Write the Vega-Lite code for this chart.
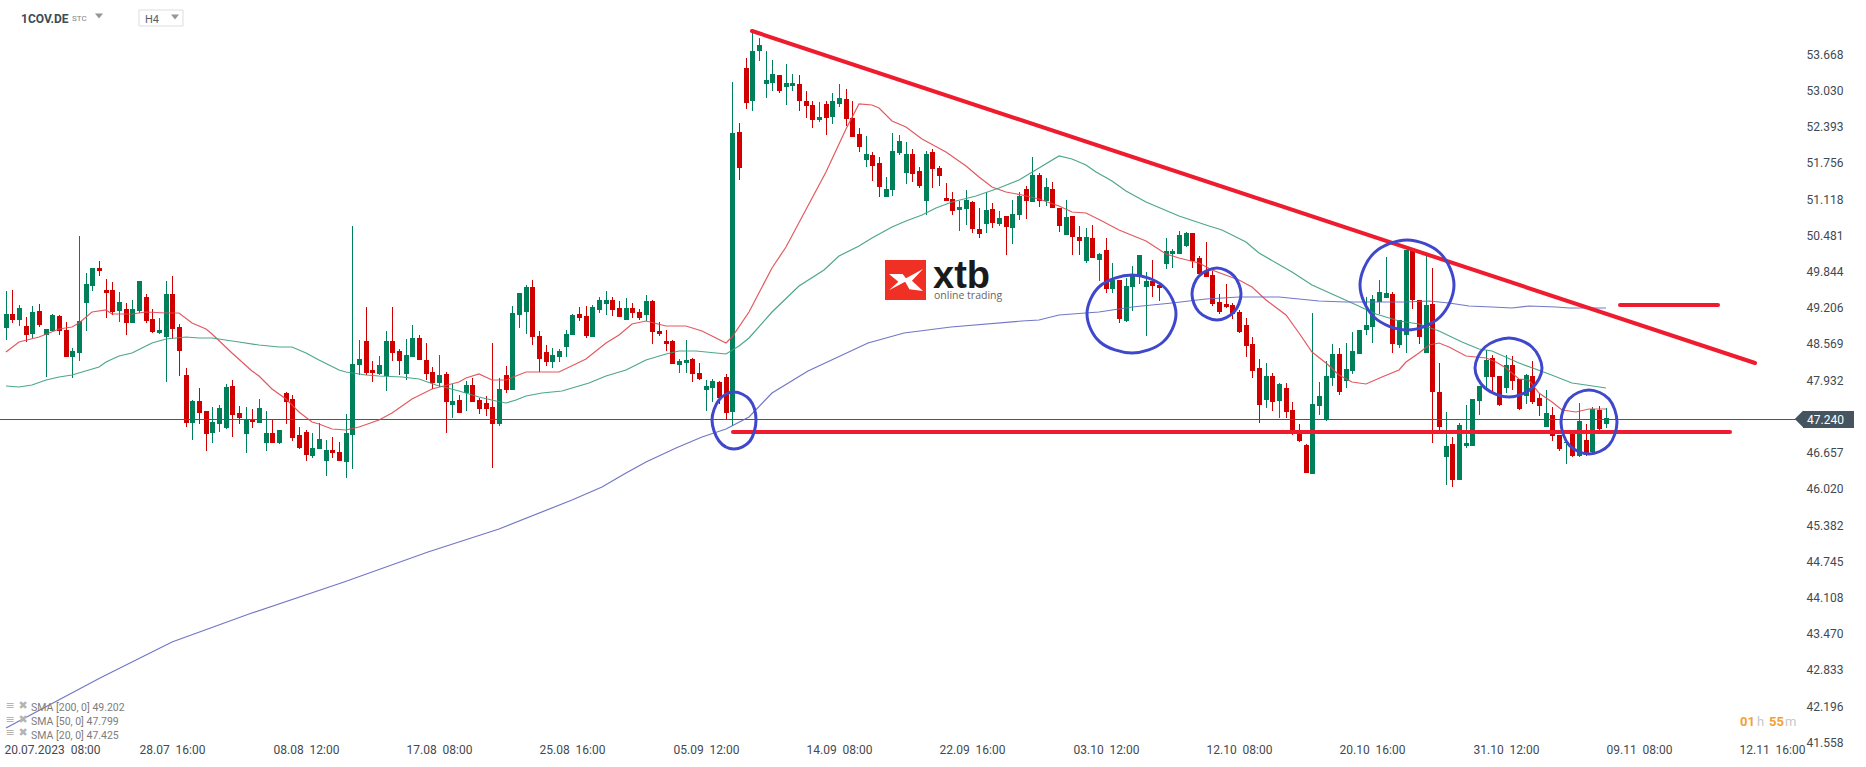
{"$schema":"https://vega.github.io/schema/vega-lite/v6.json","width":1866,"height":767,"autosize":{"type":"none"},"padding":0,"background":"#ffffff","config":{"view":{"stroke":null},"font":"Roboto","text":{"font":"Roboto"},"axis":{"labelFont":"Roboto"}},
"datasets":{
"candles":[
{"i":0,"open":48.84,"high":49.49,"low":48.63,"close":49.09},{"i":1,"open":49.09,"high":49.51,"low":48.93,"close":48.98},{"i":2,"open":48.98,"high":49.25,"low":48.88,"close":49.19},{"i":3,"open":48.88,"high":49.03,"low":48.59,"close":48.72},{"i":4,"open":48.73,"high":49.23,"low":48.67,"close":49.12},{"i":5,"open":49.14,"high":49.26,"low":48.86,"close":48.89},{"i":6,"open":48.72,"high":48.82,"low":47.98,"close":48.82},{"i":7,"open":48.79,"high":49.09,"low":48.79,"close":49.07},{"i":8,"open":49.05,"high":49.07,"low":48.72,"close":48.79},{"i":9,"open":48.81,"high":48.95,"low":48.33,"close":48.33},
{"i":10,"open":48.33,"high":48.49,"low":47.96,"close":48.44},{"i":11,"open":48.40,"high":50.46,"low":48.26,"close":48.96},{"i":12,"open":49.28,"high":49.81,"low":48.79,"close":49.62},{"i":13,"open":49.58,"high":49.90,"low":49.49,"close":49.90},{"i":14,"open":49.90,"high":50.02,"low":49.76,"close":49.84},{"i":15,"open":49.51,"high":49.70,"low":49.02,"close":49.46},{"i":16,"open":49.51,"high":49.65,"low":49.07,"close":49.12},{"i":17,"open":49.14,"high":49.47,"low":48.95,"close":49.30},{"i":18,"open":49.18,"high":49.28,"low":48.72,"close":48.93},{"i":19,"open":48.93,"high":49.33,"low":48.93,"close":49.18},
{"i":20,"open":49.14,"high":49.67,"low":49.10,"close":49.67},{"i":21,"open":49.39,"high":49.44,"low":48.93,"close":48.96},{"i":22,"open":49.00,"high":49.18,"low":48.75,"close":48.77},{"i":23,"open":48.75,"high":49.02,"low":48.74,"close":48.81},{"i":24,"open":48.68,"high":49.67,"low":47.89,"close":49.44},{"i":25,"open":49.44,"high":49.76,"low":48.65,"close":48.82},{"i":26,"open":48.86,"high":48.91,"low":48.00,"close":48.44},{"i":27,"open":48.01,"high":48.14,"low":47.10,"close":47.17},{"i":28,"open":47.17,"high":47.57,"low":46.87,"close":47.56},{"i":29,"open":47.56,"high":47.79,"low":47.15,"close":47.35},
{"i":30,"open":47.38,"high":47.38,"low":46.68,"close":46.98},{"i":31,"open":46.99,"high":47.45,"low":46.82,"close":47.19},{"i":32,"open":47.15,"high":47.49,"low":47.01,"close":47.43},{"i":33,"open":47.08,"high":47.86,"low":47.06,"close":47.80},{"i":34,"open":47.82,"high":47.93,"low":46.92,"close":47.31},{"i":35,"open":47.35,"high":47.47,"low":47.15,"close":47.26},{"i":36,"open":46.98,"high":47.45,"low":46.64,"close":47.24},{"i":37,"open":47.24,"high":47.42,"low":47.08,"close":47.19},{"i":38,"open":47.17,"high":47.59,"low":47.17,"close":47.43},{"i":39,"open":46.82,"high":47.38,"low":46.68,"close":46.99},
{"i":40,"open":46.99,"high":47.24,"low":46.82,"close":46.82},{"i":41,"open":46.82,"high":47.05,"low":46.80,"close":47.05},{"i":42,"open":47.70,"high":47.72,"low":47.15,"close":47.54},{"i":43,"open":47.59,"high":47.66,"low":46.85,"close":46.91},{"i":44,"open":46.96,"high":47.10,"low":46.71,"close":46.73},{"i":45,"open":47.01,"high":47.05,"low":46.50,"close":46.61},{"i":46,"open":46.59,"high":46.99,"low":46.55,"close":46.73},{"i":47,"open":46.71,"high":47.17,"low":46.71,"close":46.89},{"i":48,"open":46.50,"high":46.87,"low":46.24,"close":46.69},{"i":49,"open":46.69,"high":46.92,"low":46.55,"close":46.64},
{"i":50,"open":46.66,"high":46.84,"low":46.50,"close":46.50},{"i":51,"open":46.48,"high":47.33,"low":46.20,"close":46.99},{"i":52,"open":46.96,"high":50.64,"low":46.36,"close":48.21},{"i":53,"open":48.19,"high":48.63,"low":48.01,"close":48.30},{"i":54,"open":48.61,"high":49.21,"low":48.01,"close":48.05},{"i":55,"open":48.10,"high":48.26,"low":47.89,"close":48.05},{"i":56,"open":48.03,"high":48.35,"low":48.01,"close":48.19},{"i":57,"open":48.00,"high":48.79,"low":47.73,"close":48.61},{"i":58,"open":48.61,"high":49.21,"low":48.26,"close":48.40},{"i":59,"open":48.44,"high":48.47,"low":48.01,"close":48.26},
{"i":60,"open":48.03,"high":48.65,"low":47.93,"close":48.37},{"i":61,"open":48.33,"high":48.89,"low":48.33,"close":48.67},{"i":62,"open":48.67,"high":48.72,"low":48.28,"close":48.28},{"i":63,"open":48.28,"high":48.58,"low":47.93,"close":48.03},{"i":64,"open":48.07,"high":48.16,"low":47.77,"close":47.87},{"i":65,"open":47.87,"high":48.37,"low":47.80,"close":48.01},{"i":66,"open":48.03,"high":48.07,"low":46.99,"close":47.54},{"i":67,"open":47.49,"high":47.86,"low":47.26,"close":47.56},{"i":68,"open":47.57,"high":47.66,"low":47.35,"close":47.35},{"i":69,"open":47.70,"high":47.91,"low":47.38,"close":47.84},
{"i":70,"open":47.84,"high":47.96,"low":47.54,"close":47.54},{"i":71,"open":47.57,"high":47.61,"low":47.33,"close":47.42},{"i":72,"open":47.52,"high":47.65,"low":47.29,"close":47.42},{"i":73,"open":47.45,"high":48.58,"low":46.38,"close":47.15},{"i":74,"open":47.15,"high":47.96,"low":47.12,"close":47.77},{"i":75,"open":48.01,"high":48.17,"low":47.70,"close":47.75},{"i":76,"open":47.75,"high":49.23,"low":47.75,"close":49.10},{"i":77,"open":49.07,"high":49.46,"low":48.84,"close":49.46},{"i":78,"open":49.12,"high":49.60,"low":48.74,"close":49.56},{"i":79,"open":49.56,"high":49.69,"low":48.54,"close":48.68},
{"i":80,"open":48.70,"high":48.79,"low":48.07,"close":48.30},{"i":81,"open":48.42,"high":48.54,"low":48.17,"close":48.24},{"i":82,"open":48.24,"high":48.49,"low":48.14,"close":48.37},{"i":83,"open":48.33,"high":48.47,"low":48.24,"close":48.44},{"i":84,"open":48.51,"high":48.81,"low":48.33,"close":48.74},{"i":85,"open":48.72,"high":49.09,"low":48.72,"close":49.07},{"i":86,"open":49.09,"high":49.21,"low":48.96,"close":49.02},{"i":87,"open":49.05,"high":49.23,"low":48.67,"close":48.70},{"i":88,"open":48.68,"high":49.25,"low":48.68,"close":49.21},{"i":89,"open":49.16,"high":49.39,"low":49.10,"close":49.33},
{"i":90,"open":49.26,"high":49.49,"low":49.07,"close":49.33},{"i":91,"open":49.33,"high":49.39,"low":49.05,"close":49.16},{"i":92,"open":49.19,"high":49.32,"low":49.03,"close":49.03},{"i":93,"open":48.98,"high":49.37,"low":48.98,"close":49.19},{"i":94,"open":49.19,"high":49.28,"low":49.02,"close":49.10},{"i":95,"open":49.12,"high":49.18,"low":48.98,"close":49.02},{"i":96,"open":49.07,"high":49.42,"low":48.96,"close":49.32},{"i":97,"open":49.32,"high":49.33,"low":48.56,"close":48.77},{"i":98,"open":48.79,"high":48.95,"low":48.70,"close":48.74},{"i":99,"open":48.61,"high":48.81,"low":48.44,"close":48.56},
{"i":100,"open":48.61,"high":48.63,"low":48.21,"close":48.21},{"i":101,"open":48.19,"high":48.30,"low":48.05,"close":48.26},{"i":102,"open":48.23,"high":48.63,"low":48.05,"close":48.28},{"i":103,"open":48.30,"high":48.31,"low":47.89,"close":48.03},{"i":104,"open":48.05,"high":48.23,"low":47.93,"close":47.94},{"i":105,"open":47.75,"high":47.93,"low":47.38,"close":47.82},{"i":106,"open":47.79,"high":47.94,"low":47.54,"close":47.91},{"i":107,"open":47.89,"high":47.91,"low":47.50,"close":47.61},{"i":108,"open":47.98,"high":48.03,"low":47.24,"close":47.35},{"i":109,"open":47.36,"high":53.17,"low":47.12,"close":52.27},
{"i":110,"open":52.29,"high":52.45,"low":51.45,"close":51.66},{"i":111,"open":53.42,"high":53.59,"low":52.69,"close":52.80},{"i":112,"open":52.84,"high":54.07,"low":52.66,"close":53.71},{"i":113,"open":53.71,"high":53.94,"low":53.54,"close":53.82},{"i":114,"open":53.13,"high":53.71,"low":52.89,"close":53.20},{"i":115,"open":53.15,"high":53.56,"low":53.01,"close":53.31},{"i":116,"open":53.29,"high":53.29,"low":52.98,"close":53.01},{"i":117,"open":53.08,"high":53.49,"low":52.77,"close":53.15},{"i":118,"open":53.10,"high":53.31,"low":53.01,"close":53.15},{"i":119,"open":53.13,"high":53.29,"low":52.66,"close":52.84},
{"i":120,"open":52.84,"high":53.01,"low":52.54,"close":52.75},{"i":121,"open":52.77,"high":52.84,"low":52.36,"close":52.50},{"i":122,"open":52.50,"high":52.82,"low":52.47,"close":52.55},{"i":123,"open":52.78,"high":52.84,"low":52.24,"close":52.54},{"i":124,"open":52.55,"high":52.98,"low":52.43,"close":52.84},{"i":125,"open":52.78,"high":53.13,"low":52.73,"close":52.89},{"i":126,"open":52.87,"high":53.05,"low":52.40,"close":52.52},{"i":127,"open":52.54,"high":52.84,"low":52.20,"close":52.20},{"i":128,"open":52.26,"high":52.36,"low":51.94,"close":52.03},{"i":129,"open":51.80,"high":52.22,"low":51.67,"close":51.90},
{"i":130,"open":51.89,"high":51.94,"low":51.43,"close":51.69},{"i":131,"open":51.74,"high":51.85,"low":51.15,"close":51.32},{"i":132,"open":51.15,"high":51.50,"low":51.15,"close":51.29},{"i":133,"open":51.27,"high":52.27,"low":51.16,"close":51.96},{"i":134,"open":51.92,"high":52.24,"low":51.89,"close":52.13},{"i":135,"open":51.57,"high":52.11,"low":51.37,"close":51.90},{"i":136,"open":51.90,"high":51.99,"low":51.41,"close":51.55},{"i":137,"open":51.60,"high":51.67,"low":51.30,"close":51.34},{"i":138,"open":51.08,"high":51.96,"low":50.83,"close":51.90},{"i":139,"open":51.94,"high":51.99,"low":51.30,"close":51.64},
{"i":140,"open":51.66,"high":51.69,"low":51.34,"close":51.52},{"i":141,"open":51.13,"high":51.39,"low":51.08,"close":51.08},{"i":142,"open":51.11,"high":51.23,"low":50.83,"close":50.90},{"i":143,"open":50.92,"high":51.08,"low":50.55,"close":50.97},{"i":144,"open":50.94,"high":51.27,"low":50.65,"close":51.09},{"i":145,"open":51.06,"high":51.08,"low":50.51,"close":50.58},{"i":146,"open":50.58,"high":50.95,"low":50.43,"close":50.50},{"i":147,"open":50.67,"high":51.23,"low":50.51,"close":50.92},{"i":148,"open":50.94,"high":51.04,"low":50.60,"close":50.69},{"i":149,"open":50.67,"high":50.90,"low":50.64,"close":50.78},
{"i":150,"open":50.81,"high":50.81,"low":50.13,"close":50.62},{"i":151,"open":50.60,"high":51.09,"low":50.32,"close":50.85},{"i":152,"open":50.83,"high":51.24,"low":50.74,"close":51.16},{"i":153,"open":51.29,"high":51.34,"low":50.76,"close":51.08},{"i":154,"open":51.06,"high":51.85,"low":51.06,"close":51.53},{"i":155,"open":51.53,"high":51.57,"low":50.97,"close":51.08},{"i":156,"open":51.08,"high":51.48,"low":50.99,"close":51.32},{"i":157,"open":51.29,"high":51.41,"low":50.95,"close":50.95},{"i":158,"open":50.95,"high":50.95,"low":50.53,"close":50.64},{"i":159,"open":50.48,"high":51.09,"low":50.48,"close":50.79},
{"i":160,"open":50.81,"high":50.81,"low":50.13,"close":50.44},{"i":161,"open":50.44,"high":50.64,"low":50.13,"close":50.37},{"i":162,"open":50.02,"high":50.60,"low":49.99,"close":50.44},{"i":163,"open":50.43,"high":50.65,"low":50.07,"close":50.07},{"i":164,"open":50.04,"high":50.16,"low":49.67,"close":50.14},{"i":165,"open":50.21,"high":50.43,"low":49.46,"close":49.53},{"i":166,"open":49.53,"high":49.99,"low":49.46,"close":49.69},{"i":167,"open":49.69,"high":49.69,"low":48.93,"close":49.00},{"i":168,"open":48.96,"high":49.72,"low":48.95,"close":49.58},{"i":169,"open":49.56,"high":49.93,"low":49.14,"close":49.77},
{"i":170,"open":49.76,"high":50.13,"low":49.62,"close":50.13},{"i":171,"open":49.56,"high":49.83,"low":48.70,"close":49.67},{"i":172,"open":49.67,"high":50.04,"low":49.39,"close":49.58},{"i":173,"open":49.60,"high":49.62,"low":49.32,"close":49.55},{"i":174,"open":49.97,"high":50.43,"low":49.88,"close":50.20},{"i":175,"open":50.14,"high":50.23,"low":49.90,"close":50.20},{"i":176,"open":50.14,"high":50.55,"low":50.14,"close":50.48},{"i":177,"open":50.28,"high":50.53,"low":50.27,"close":50.51},{"i":178,"open":50.51,"high":50.51,"low":49.90,"close":50.02},{"i":179,"open":50.07,"high":50.11,"low":49.74,"close":49.79},
{"i":180,"open":49.84,"high":50.35,"low":49.74,"close":49.74},{"i":181,"open":49.77,"high":49.84,"low":49.23,"close":49.26},{"i":182,"open":49.30,"high":49.44,"low":49.09,"close":49.12},{"i":183,"open":49.26,"high":49.62,"low":49.19,"close":49.21},{"i":184,"open":49.25,"high":49.28,"low":49.00,"close":49.09},{"i":185,"open":49.12,"high":49.16,"low":48.75,"close":48.77},{"i":186,"open":48.89,"high":49.02,"low":48.33,"close":48.52},{"i":187,"open":48.56,"high":48.68,"low":47.96,"close":48.09},{"i":188,"open":48.14,"high":48.30,"low":47.17,"close":47.49},{"i":189,"open":47.57,"high":48.23,"low":47.43,"close":48.00},
{"i":190,"open":48.00,"high":48.05,"low":47.38,"close":47.54},{"i":191,"open":47.56,"high":47.87,"low":47.26,"close":47.86},{"i":192,"open":47.79,"high":47.87,"low":47.26,"close":47.36},{"i":193,"open":47.40,"high":47.54,"low":46.96,"close":47.01},{"i":194,"open":47.01,"high":47.15,"low":46.84,"close":46.85},{"i":195,"open":46.78,"high":46.80,"low":46.29,"close":46.29},{"i":196,"open":46.28,"high":49.10,"low":46.28,"close":47.50},{"i":197,"open":47.47,"high":47.89,"low":47.31,"close":47.64},{"i":198,"open":47.24,"high":48.26,"low":47.20,"close":48.00},{"i":199,"open":47.96,"high":48.56,"low":47.82,"close":48.38},
{"i":200,"open":48.38,"high":48.49,"low":47.66,"close":47.72},{"i":201,"open":47.91,"high":48.58,"low":47.79,"close":48.12},{"i":202,"open":48.09,"high":48.77,"low":48.03,"close":48.44},{"i":203,"open":48.38,"high":48.81,"low":48.38,"close":48.81},{"i":204,"open":48.81,"high":49.39,"low":48.72,"close":48.89},{"i":205,"open":48.86,"high":49.42,"low":48.58,"close":49.35},{"i":206,"open":49.30,"high":49.69,"low":49.09,"close":49.47},{"i":207,"open":49.37,"high":50.09,"low":49.37,"close":49.46},{"i":208,"open":49.44,"high":49.47,"low":48.40,"close":48.56},{"i":209,"open":48.54,"high":48.98,"low":48.49,"close":48.98},
{"i":210,"open":48.72,"high":50.21,"low":48.40,"close":50.21},{"i":211,"open":50.20,"high":50.21,"low":49.18,"close":49.33},{"i":212,"open":49.33,"high":49.33,"low":48.56,"close":48.68},{"i":213,"open":48.40,"high":50.11,"low":48.40,"close":49.25},{"i":214,"open":49.26,"high":49.90,"low":46.82,"close":47.72},{"i":215,"open":47.72,"high":48.23,"low":47.01,"close":47.10},{"i":216,"open":46.57,"high":47.36,"low":46.08,"close":46.76},{"i":217,"open":46.80,"high":46.92,"low":46.04,"close":46.17},{"i":218,"open":46.17,"high":47.17,"low":46.17,"close":47.13},{"i":219,"open":46.76,"high":47.49,"low":46.73,"close":46.82},
{"i":220,"open":46.76,"high":47.59,"low":46.76,"close":47.59},{"i":221,"open":47.56,"high":47.82,"low":47.31,"close":47.82},{"i":222,"open":47.98,"high":48.45,"low":47.77,"close":48.28},{"i":223,"open":48.31,"high":48.37,"low":47.72,"close":47.98},{"i":224,"open":48.00,"high":48.00,"low":47.47,"close":47.49},{"i":225,"open":47.79,"high":48.37,"low":47.70,"close":48.19},{"i":226,"open":48.19,"high":48.35,"low":47.75,"close":47.91},{"i":227,"open":47.94,"high":47.94,"low":47.40,"close":47.42},{"i":228,"open":47.64,"high":48.03,"low":47.50,"close":48.01},{"i":229,"open":48.00,"high":48.26,"low":47.50,"close":47.54},
{"i":230,"open":47.61,"high":47.68,"low":47.29,"close":47.47},{"i":231,"open":47.10,"high":47.75,"low":47.10,"close":47.35},{"i":232,"open":47.31,"high":47.45,"low":46.85,"close":46.94},{"i":233,"open":46.96,"high":46.96,"low":46.68,"close":46.71},{"i":234,"open":46.81,"high":46.87,"low":46.45,"close":46.84},{"i":235,"open":47.05,"high":47.05,"low":46.57,"close":46.59},{"i":236,"open":46.59,"high":47.52,"low":46.57,"close":47.20},{"i":237,"open":46.87,"high":47.15,"low":46.59,"close":46.61},{"i":238,"open":46.66,"high":47.45,"low":46.64,"close":47.42},{"i":239,"open":47.40,"high":47.47,"low":47.05,"close":47.06},{"i":240,"open":47.15,"high":47.43,"low":47.08,"close":47.26}
],
"sma":[
{"series":"SMA 20","i":0,"price":48.42},{"series":"SMA 20","i":2,"price":48.60},{"series":"SMA 20","i":5,"price":48.68},{"series":"SMA 20","i":8,"price":48.82},{"series":"SMA 20","i":10,"price":48.86},{"series":"SMA 20","i":11,"price":48.93},{"series":"SMA 20","i":13,"price":49.12},{"series":"SMA 20","i":15,"price":49.16},{"series":"SMA 20","i":16,"price":49.09},{"series":"SMA 20","i":19,"price":49.08},{"series":"SMA 20","i":21,"price":49.12},{"series":"SMA 20","i":24,"price":49.10},{"series":"SMA 20","i":26,"price":49.10},{"series":"SMA 20","i":28,"price":48.93},{"series":"SMA 20","i":30,"price":48.82},{"series":"SMA 20","i":31,"price":48.74},{"series":"SMA 20","i":34,"price":48.41},{"series":"SMA 20","i":37,"price":48.08},{"series":"SMA 20","i":38,"price":48.00},{"series":"SMA 20","i":40,"price":47.76},{"series":"SMA 20","i":42,"price":47.60},{"series":"SMA 20","i":44,"price":47.37},{"series":"SMA 20","i":46,"price":47.18},{"series":"SMA 20","i":47,"price":47.15},{"series":"SMA 20","i":49,"price":47.07},{"series":"SMA 20","i":51,"price":47.05},{"series":"SMA 20","i":53,"price":47.10},{"series":"SMA 20","i":56,"price":47.22},{"series":"SMA 20","i":58,"price":47.34},{"series":"SMA 20","i":61,"price":47.59},{"series":"SMA 20","i":64,"price":47.76},{"series":"SMA 20","i":68,"price":47.90},{"series":"SMA 20","i":69,"price":47.97},{"series":"SMA 20","i":71,"price":48.04},{"series":"SMA 20","i":73,"price":47.93},{"series":"SMA 20","i":75,"price":47.93},{"series":"SMA 20","i":78,"price":48.07},{"series":"SMA 20","i":81,"price":48.06},{"series":"SMA 20","i":83,"price":48.07},{"series":"SMA 20","i":87,"price":48.30},{"series":"SMA 20","i":90,"price":48.57},{"series":"SMA 20","i":92,"price":48.72},{"series":"SMA 20","i":94,"price":48.92},{"series":"SMA 20","i":96,"price":48.97},{"series":"SMA 20","i":99,"price":48.88},{"series":"SMA 20","i":102,"price":48.88},{"series":"SMA 20","i":104.5,"price":48.78},{"series":"SMA 20","i":108,"price":48.57},{"series":"SMA 20","i":109,"price":48.69},{"series":"SMA 20","i":111.5,"price":49.13},{"series":"SMA 20","i":115,"price":49.89},{"series":"SMA 20","i":117,"price":50.27},{"series":"SMA 20","i":119.5,"price":50.80},{"series":"SMA 20","i":123,"price":51.59},{"series":"SMA 20","i":126,"price":52.35},{"series":"SMA 20","i":128,"price":52.78},{"series":"SMA 20","i":130,"price":52.76},{"series":"SMA 20","i":131,"price":52.71},{"series":"SMA 20","i":133,"price":52.48},{"series":"SMA 20","i":135,"price":52.37},{"series":"SMA 20","i":137.5,"price":52.16},{"series":"SMA 20","i":141,"price":51.94},{"series":"SMA 20","i":144,"price":51.70},{"series":"SMA 20","i":146,"price":51.49},{"series":"SMA 20","i":148,"price":51.33},{"series":"SMA 20","i":150,"price":51.23},{"series":"SMA 20","i":152.5,"price":51.19},{"series":"SMA 20","i":155,"price":51.12},{"series":"SMA 20","i":158,"price":50.98},{"series":"SMA 20","i":160,"price":50.89},{"series":"SMA 20","i":162,"price":50.86},{"series":"SMA 20","i":164.5,"price":50.73},{"series":"SMA 20","i":167,"price":50.57},{"series":"SMA 20","i":171,"price":50.38},{"series":"SMA 20","i":174,"price":50.14},{"series":"SMA 20","i":176,"price":50.07},{"series":"SMA 20","i":179,"price":49.99},{"series":"SMA 20","i":181,"price":49.87},{"series":"SMA 20","i":185,"price":49.69},{"series":"SMA 20","i":187,"price":49.57},{"series":"SMA 20","i":189,"price":49.33},{"series":"SMA 20","i":192,"price":49.07},{"series":"SMA 20","i":194,"price":48.75},{"series":"SMA 20","i":196,"price":48.42},{"series":"SMA 20","i":198,"price":48.23},{"series":"SMA 20","i":200,"price":48.01},{"series":"SMA 20","i":202,"price":47.89},{"series":"SMA 20","i":204,"price":47.86},{"series":"SMA 20","i":206.5,"price":47.98},{"series":"SMA 20","i":209,"price":48.10},{"series":"SMA 20","i":210,"price":48.25},{"series":"SMA 20","i":212,"price":48.40},{"series":"SMA 20","i":213.5,"price":48.54},{"series":"SMA 20","i":215,"price":48.58},{"series":"SMA 20","i":216.5,"price":48.51},{"series":"SMA 20","i":219,"price":48.35},{"series":"SMA 20","i":222,"price":48.32},{"series":"SMA 20","i":223.5,"price":48.25},{"series":"SMA 20","i":225,"price":48.13},{"series":"SMA 20","i":227,"price":47.94},{"series":"SMA 20","i":228.5,"price":47.93},{"series":"SMA 20","i":230,"price":47.69},{"series":"SMA 20","i":232,"price":47.54},{"series":"SMA 20","i":233.5,"price":47.40},{"series":"SMA 20","i":235.5,"price":47.36},{"series":"SMA 20","i":237.5,"price":47.42},{"series":"SMA 20","i":240,"price":47.42},
{"series":"SMA 50","i":0,"price":47.82},{"series":"SMA 50","i":2,"price":47.80},{"series":"SMA 50","i":4,"price":47.84},{"series":"SMA 50","i":6,"price":47.92},{"series":"SMA 50","i":8,"price":47.98},{"series":"SMA 50","i":10,"price":48.01},{"series":"SMA 50","i":14,"price":48.15},{"series":"SMA 50","i":15,"price":48.25},{"series":"SMA 50","i":17,"price":48.35},{"series":"SMA 50","i":19,"price":48.41},{"series":"SMA 50","i":22,"price":48.58},{"series":"SMA 50","i":24,"price":48.64},{"series":"SMA 50","i":27,"price":48.69},{"series":"SMA 50","i":29,"price":48.67},{"series":"SMA 50","i":31,"price":48.67},{"series":"SMA 50","i":35,"price":48.60},{"series":"SMA 50","i":38,"price":48.55},{"series":"SMA 50","i":41,"price":48.51},{"series":"SMA 50","i":43,"price":48.50},{"series":"SMA 50","i":45,"price":48.40},{"series":"SMA 50","i":47,"price":48.28},{"series":"SMA 50","i":50,"price":48.10},{"series":"SMA 50","i":51,"price":48.06},{"series":"SMA 50","i":54,"price":48.01},{"series":"SMA 50","i":56,"price":48.00},{"series":"SMA 50","i":59.5,"price":47.98},{"series":"SMA 50","i":62,"price":47.94},{"series":"SMA 50","i":64.5,"price":47.84},{"series":"SMA 50","i":68,"price":47.74},{"series":"SMA 50","i":71,"price":47.63},{"series":"SMA 50","i":73.5,"price":47.56},{"series":"SMA 50","i":75,"price":47.53},{"series":"SMA 50","i":76.5,"price":47.57},{"series":"SMA 50","i":78,"price":47.64},{"series":"SMA 50","i":80.5,"price":47.70},{"series":"SMA 50","i":83.5,"price":47.74},{"series":"SMA 50","i":87.5,"price":47.88},{"series":"SMA 50","i":90,"price":48.00},{"series":"SMA 50","i":93,"price":48.10},{"series":"SMA 50","i":96,"price":48.28},{"series":"SMA 50","i":99,"price":48.38},{"series":"SMA 50","i":101,"price":48.44},{"series":"SMA 50","i":103.5,"price":48.44},{"series":"SMA 50","i":108,"price":48.38},{"series":"SMA 50","i":110,"price":48.52},{"series":"SMA 50","i":111.5,"price":48.66},{"series":"SMA 50","i":115,"price":49.12},{"series":"SMA 50","i":119,"price":49.58},{"series":"SMA 50","i":122.8,"price":49.87},{"series":"SMA 50","i":125,"price":50.11},{"series":"SMA 50","i":128,"price":50.28},{"series":"SMA 50","i":130,"price":50.42},{"series":"SMA 50","i":133,"price":50.61},{"series":"SMA 50","i":135,"price":50.72},{"series":"SMA 50","i":137.5,"price":50.83},{"series":"SMA 50","i":139.5,"price":50.96},{"series":"SMA 50","i":142,"price":51.05},{"series":"SMA 50","i":145.5,"price":51.17},{"series":"SMA 50","i":149,"price":51.30},{"series":"SMA 50","i":152,"price":51.45},{"series":"SMA 50","i":155,"price":51.65},{"series":"SMA 50","i":158,"price":51.86},{"series":"SMA 50","i":160,"price":51.81},{"series":"SMA 50","i":162,"price":51.71},{"series":"SMA 50","i":163.5,"price":51.59},{"series":"SMA 50","i":166,"price":51.42},{"series":"SMA 50","i":168,"price":51.26},{"series":"SMA 50","i":171,"price":51.06},{"series":"SMA 50","i":176,"price":50.82},{"series":"SMA 50","i":180,"price":50.65},{"series":"SMA 50","i":182.5,"price":50.57},{"series":"SMA 50","i":186,"price":50.36},{"series":"SMA 50","i":188,"price":50.17},{"series":"SMA 50","i":193,"price":49.83},{"series":"SMA 50","i":196,"price":49.59},{"series":"SMA 50","i":199,"price":49.44},{"series":"SMA 50","i":202,"price":49.28},{"series":"SMA 50","i":205.5,"price":49.09},{"series":"SMA 50","i":209,"price":48.96},{"series":"SMA 50","i":212,"price":48.91},{"series":"SMA 50","i":215,"price":48.78},{"series":"SMA 50","i":218.5,"price":48.60},{"series":"SMA 50","i":221,"price":48.48},{"series":"SMA 50","i":223,"price":48.44},{"series":"SMA 50","i":227,"price":48.23},{"series":"SMA 50","i":231.5,"price":48.04},{"series":"SMA 50","i":235,"price":47.88},{"series":"SMA 50","i":237,"price":47.83},{"series":"SMA 50","i":240,"price":47.79},
{"series":"SMA 200","i":0,"price":41.81},{"series":"SMA 200","i":14.2,"price":42.68},{"series":"SMA 200","i":25,"price":43.31},{"series":"SMA 200","i":36.5,"price":43.81},{"series":"SMA 200","i":50.8,"price":44.37},{"series":"SMA 200","i":63.3,"price":44.90},{"series":"SMA 200","i":74,"price":45.30},{"series":"SMA 200","i":85,"price":45.81},{"series":"SMA 200","i":89.5,"price":46.04},{"series":"SMA 200","i":93.1,"price":46.29},{"series":"SMA 200","i":96.1,"price":46.48},{"series":"SMA 200","i":100.6,"price":46.73},{"series":"SMA 200","i":104.5,"price":46.92},{"series":"SMA 200","i":108.1,"price":47.06},{"series":"SMA 200","i":111.5,"price":47.28},{"series":"SMA 200","i":115,"price":47.70},{"series":"SMA 200","i":120.4,"price":48.08},{"series":"SMA 200","i":129.4,"price":48.58},{"series":"SMA 200","i":134.7,"price":48.75},{"series":"SMA 200","i":141.8,"price":48.86},{"series":"SMA 200","i":152.5,"price":48.96},{"series":"SMA 200","i":155,"price":48.98},{"series":"SMA 200","i":158,"price":49.07},{"series":"SMA 200","i":164,"price":49.13},{"series":"SMA 200","i":169,"price":49.21},{"series":"SMA 200","i":175,"price":49.29},{"series":"SMA 200","i":180,"price":49.35},{"series":"SMA 200","i":185,"price":49.39},{"series":"SMA 200","i":191,"price":49.39},{"series":"SMA 200","i":197,"price":49.32},{"series":"SMA 200","i":201,"price":49.30},{"series":"SMA 200","i":210,"price":49.30},{"series":"SMA 200","i":213.5,"price":49.32},{"series":"SMA 200","i":216.5,"price":49.28},{"series":"SMA 200","i":219.5,"price":49.23},{"series":"SMA 200","i":223,"price":49.21},{"series":"SMA 200","i":226,"price":49.19},{"series":"SMA 200","i":228.5,"price":49.22},{"series":"SMA 200","i":232.5,"price":49.21},{"series":"SMA 200","i":234.5,"price":49.19},{"series":"SMA 200","i":240,"price":49.20}
],
"trend":[
{"name":"resistance","i":111.9,"price":54.07},{"name":"resistance","i":262.4,"price":48.22},
{"name":"support","i":109.1,"price":47.006},{"name":"support","i":258.6,"price":47.006},
{"name":"level","i":242.1,"price":49.24},{"name":"level","i":256.8,"price":49.24}
],
"circles":[
{"c":1,"n":0,"i":112.60,"price":47.214},{"c":1,"n":1,"i":111.63,"price":47.575},{"c":1,"n":2,"i":109.30,"price":47.724},{"c":1,"n":3,"i":106.97,"price":47.575},{"c":1,"n":4,"i":106.00,"price":47.214},{"c":1,"n":5,"i":106.97,"price":46.853},{"c":1,"n":6,"i":109.30,"price":46.704},{"c":1,"n":7,"i":111.63,"price":46.853},
{"c":2,"n":0,"i":175.59,"price":49.088},{"c":2,"n":1,"i":173.64,"price":49.573},{"c":2,"n":2,"i":168.92,"price":49.774},{"c":2,"n":3,"i":164.20,"price":49.573},{"c":2,"n":4,"i":162.25,"price":49.088},{"c":2,"n":5,"i":164.20,"price":48.603},{"c":2,"n":6,"i":168.92,"price":48.402},{"c":2,"n":7,"i":173.64,"price":48.603},
{"c":3,"n":0,"i":185.34,"price":49.44},{"c":3,"n":1,"i":184.27,"price":49.763},{"c":3,"n":2,"i":181.67,"price":49.898},{"c":3,"n":3,"i":179.07,"price":49.763},{"c":3,"n":4,"i":178.00,"price":49.44},{"c":3,"n":5,"i":179.07,"price":49.117},{"c":3,"n":6,"i":181.67,"price":48.982},{"c":3,"n":7,"i":184.27,"price":49.117},
{"c":4,"n":0,"i":217.29,"price":49.598},{"c":4,"n":1,"i":215.22,"price":50.158},{"c":4,"n":2,"i":210.24,"price":50.39},{"c":4,"n":3,"i":205.26,"price":50.158},{"c":4,"n":4,"i":203.19,"price":49.598},{"c":4,"n":5,"i":205.26,"price":49.038},{"c":4,"n":6,"i":210.24,"price":48.806},{"c":4,"n":7,"i":215.22,"price":49.038},
{"c":5,"n":0,"i":230.48,"price":48.146},{"c":5,"n":1,"i":229.01,"price":48.513},{"c":5,"n":2,"i":225.46,"price":48.665},{"c":5,"n":3,"i":221.91,"price":48.513},{"c":5,"n":4,"i":220.44,"price":48.146},{"c":5,"n":5,"i":221.91,"price":47.779},{"c":5,"n":6,"i":225.46,"price":47.627},{"c":5,"n":7,"i":229.01,"price":47.779},
{"c":6,"n":0,"i":241.74,"price":47.187},{"c":6,"n":1,"i":240.51,"price":47.585},{"c":6,"n":2,"i":237.54,"price":47.75},{"c":6,"n":3,"i":234.57,"price":47.585},{"c":6,"n":4,"i":233.34,"price":47.187},{"c":6,"n":5,"i":234.57,"price":46.789},{"c":6,"n":6,"i":237.54,"price":46.624},{"c":6,"n":7,"i":240.51,"price":46.789}
]},
"encoding":{
"x":{"field":"i","type":"quantitative","scale":{"domain":[-0.83,279.07],"nice":false,"zero":false,"round":true,"padding":0},"axis":{"title":null,"orient":"bottom","domain":false,"ticks":false,"grid":false,"labelPadding":-23,"labelFontSize":12,"labelColor":"#3f4a52","labelOverlap":false,"labelFlush":false,"labelBound":false,"values":[7,25,45,65,85,105,125,145,165,185,205,225,245,265],"labelExpr":"{'7':'20.07.2023\u00a0\u00a008:00','25':'28.07\u00a0\u00a016:00','45':'08.08\u00a0\u00a012:00','65':'17.08\u00a0\u00a008:00','85':'25.08\u00a0\u00a016:00','105':'05.09\u00a0\u00a012:00','125':'14.09\u00a0\u00a008:00','145':'22.09\u00a0\u00a016:00','165':'03.10\u00a0\u00a012:00','185':'12.10\u00a0\u00a008:00','205':'20.10\u00a0\u00a016:00','225':'31.10\u00a0\u00a012:00','245':'09.11\u00a0\u00a008:00','265':'12.11\u00a0\u00a016:00'}[datum.value]"}},
"y":{"field":"price","type":"quantitative","scale":{"domain":[41.117,54.613],"nice":false,"zero":false,"round":true},"axis":{"title":null,"orient":"right","domain":false,"ticks":false,"grid":false,"labelPadding":-60,"labelFontSize":12,"labelColor":"#3f4a52","labelOverlap":false,"labelFlush":false,"labelBound":false,"labelAlign":"left","format":".3f","values":[53.668,53.03,52.393,51.756,51.118,50.481,49.844,49.206,48.569,47.932,46.657,46.02,45.382,44.745,44.108,43.47,42.833,42.196,41.558]}}},
"layer":[
{"data":{"name":"candles"},"mark":{"type":"rule","strokeWidth":1,"xOffset":0.5},"encoding":{"y":{"field":"high","type":"quantitative","scale":{"domain":[41.117,54.613],"nice":false,"zero":false,"round":true},"axis":{"title":null,"orient":"right","domain":false,"ticks":false,"grid":false,"labelPadding":-60,"labelFontSize":12,"labelColor":"#3f4a52","labelOverlap":false,"labelFlush":false,"labelBound":false,"labelAlign":"left","format":".3f","values":[53.668,53.03,52.393,51.756,51.118,50.481,49.844,49.206,48.569,47.932,46.657,46.02,45.382,44.745,44.108,43.47,42.833,42.196,41.558]}},"y2":{"field":"low"},"color":{"condition":{"test":"datum.close>=datum.open","value":"#00805a"},"value":"#d00000"}}},
{"data":{"name":"candles"},"mark":{"type":"bar","size":5,"xOffset":0.5},"encoding":{"y":{"field":"open","type":"quantitative","scale":{"domain":[41.117,54.613],"nice":false,"zero":false,"round":true},"axis":{"title":null,"orient":"right","domain":false,"ticks":false,"grid":false,"labelPadding":-60,"labelFontSize":12,"labelColor":"#3f4a52","labelOverlap":false,"labelFlush":false,"labelBound":false,"labelAlign":"left","format":".3f","values":[53.668,53.03,52.393,51.756,51.118,50.481,49.844,49.206,48.569,47.932,46.657,46.02,45.382,44.745,44.108,43.47,42.833,42.196,41.558]}},"y2":{"field":"close"},"color":{"condition":{"test":"datum.close>=datum.open","value":"#00805a"},"value":"#d00000"}}},
{"data":{"values":[{"i":-1,"price":47.24},{"i":268.6,"price":47.24}]},"mark":{"type":"line","color":"#4a5660","strokeWidth":1,"yOffset":0.5}},
{"data":{"name":"sma"},"mark":{"type":"line","strokeWidth":1.2,"opacity":0.9},"encoding":{"color":{"field":"series","type":"nominal","scale":{"domain":["SMA 20","SMA 50","SMA 200"],"range":["#e0474f","#3a9d7f","#6268c0"]},"legend":null}}},
{"data":{"name":"trend"},"mark":{"type":"line","color":"#ee1c2e","strokeWidth":4,"strokeCap":"round"},"encoding":{"detail":{"field":"name"}}},
{"data":{"name":"circles"},"mark":{"type":"line","color":"#3f48cc","strokeWidth":3,"interpolate":"cardinal-closed"},"encoding":{"detail":{"field":"c"},"order":{"field":"n","type":"quantitative"}}},
{"data":{"values":[{"i":131.9,"i2":138.1,"price":50.04,"price2":49.33}]},"mark":{"type":"rect","color":"#f03024"},"encoding":{"x2":{"field":"i2"},"y2":{"field":"price2"}}},
{"data":{"values":[{"i":135,"price":49.686}]},"mark":{"type":"point","filled":true,"opacity":1,"color":"#ffffff","size":1156,"shape":"M-1,-0.35 L-0.2,-0.35 L0,-0.1 L1,-0.65 L0.35,0.05 L1,0.65 L0.2,0.55 L-0.05,0.1 L-1,0.6 L-0.45,0.1 Z"}},
{"data":{"values":[{"label":"xtb","i":139.05,"price":49.545}]},"mark":{"type":"text","align":"left","baseline":"alphabetic","font":"Liberation Sans","fontWeight":"bold","fontSize":38,"color":"#1a1a1a"},"encoding":{"text":{"field":"label"}}},
{"data":{"values":[{"label":"online trading","i":139.2,"price":49.35}]},"mark":{"type":"text","align":"left","baseline":"alphabetic","font":"Open Sans","fontSize":10.5,"color":"#666666"},"encoding":{"text":{"field":"label"}}},
{"data":{"values":[{"i":269.6,"i2":277.3,"price":47.38,"price2":47.09}]},"mark":{"type":"rect","color":"#44555f"},"encoding":{"x2":{"field":"i2"},"y2":{"field":"price2"}}},
{"data":{"values":[{"i":269,"price":47.24}]},"mark":{"type":"point","filled":true,"opacity":1,"color":"#44555f","size":289,"shape":"M0.5,-1 L-0.5,0 L0.5,1 Z"}},
{"data":{"values":[{"label":"47.240","i":270.2,"price":47.225}]},"mark":{"type":"text","align":"left","baseline":"middle","fontSize":12,"color":"#ffffff"},"encoding":{"text":{"field":"label"}}},
{"data":{"values":[{"label":"1COV.DE","i":2.3,"price":54.279}]},"mark":{"type":"text","align":"left","baseline":"middle","fontSize":12,"fontWeight":"bold","color":"#3d4b55"},"encoding":{"text":{"field":"label"}}},
{"data":{"values":[{"label":"STC","i":9.95,"price":54.27}]},"mark":{"type":"text","align":"left","baseline":"middle","fontSize":8,"color":"#7c868d"},"encoding":{"text":{"field":"label"}}},
{"data":{"values":[{"i":14,"price":54.33},{"i":25.4,"price":54.314}]},"mark":{"type":"point","filled":true,"opacity":1,"color":"#8f989e","size":64,"shape":"M-1,-0.6 L1,-0.6 L0,0.6 Z"}},
{"data":{"values":[{"i":20.05,"i2":26.55,"price":54.437,"price2":54.16}]},"mark":{"type":"rect","fill":null,"stroke":"#dddddd","strokeWidth":1},"encoding":{"x2":{"field":"i2"},"y2":{"field":"price2"}}},
{"data":{"values":[{"label":"H4","i":20.9,"price":54.26}]},"mark":{"type":"text","align":"left","baseline":"middle","fontSize":11,"color":"#555f66"},"encoding":{"text":{"field":"label"}}},
{"data":{"values":[{"label":"≡","i":0.7,"price":42.19},{"label":"≡","i":0.7,"price":41.95},{"label":"≡","i":0.7,"price":41.71},{"label":"✖","i":2.6,"price":42.19},{"label":"✖","i":2.6,"price":41.95},{"label":"✖","i":2.6,"price":41.71}]},"mark":{"type":"text","align":"center","baseline":"middle","font":"DejaVu Sans","fontSize":11,"color":"#b4b4b4"},"encoding":{"text":{"field":"label"}}},
{"data":{"values":[{"label":"SMA [200,  0] 49.202","i":3.8,"price":42.155},{"label":"SMA [50,  0] 47.799","i":3.8,"price":41.908},{"label":"SMA [20,  0] 47.425","i":3.8,"price":41.67}]},"mark":{"type":"text","align":"left","baseline":"middle","fontSize":10.5,"color":"#7d7d7d"},"encoding":{"text":{"field":"label"}}},
{"data":{"values":[{"label":"01","i":260.15,"price":41.908},{"label":"55","i":264.5,"price":41.908}]},"mark":{"type":"text","align":"left","baseline":"middle","fontSize":13,"fontWeight":"bold","color":"#f5a033"},"encoding":{"text":{"field":"label"}}},
{"data":{"values":[{"label":"h","i":262.65,"price":41.908},{"label":"m","i":266.9,"price":41.908}]},"mark":{"type":"text","align":"left","baseline":"middle","fontSize":13,"color":"#c8c8c8"},"encoding":{"text":{"field":"label"}}}
]}
